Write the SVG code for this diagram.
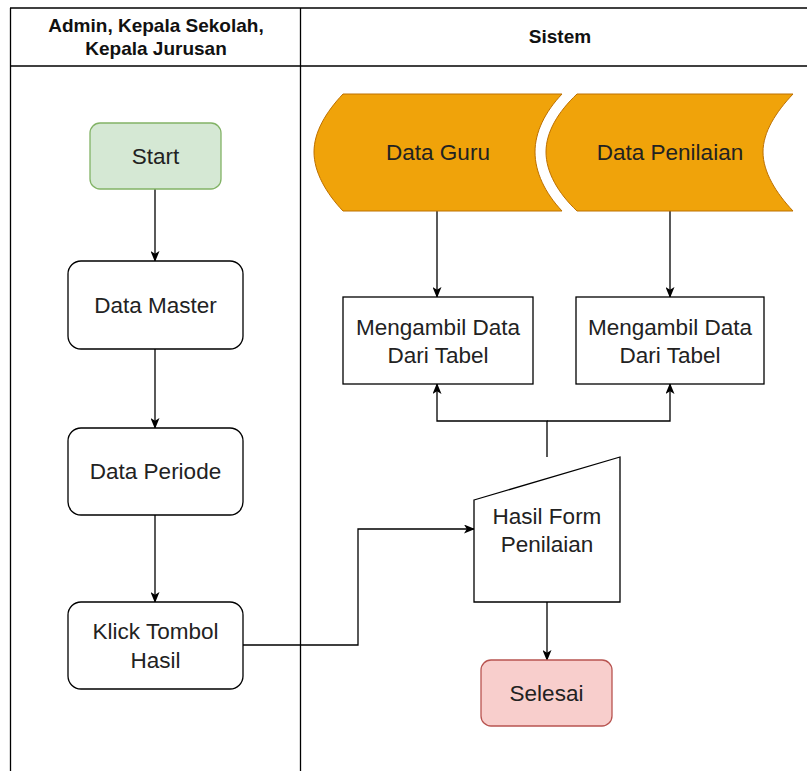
<svg xmlns="http://www.w3.org/2000/svg" width="807" height="771" viewBox="0 0 807 771">
  <style>
    .lane { fill: none; stroke: #000; stroke-width: 1.3; }
    .hdr { font-family: "Liberation Sans", Arial, sans-serif; font-weight: bold; font-size: 19px; fill: #111; text-anchor: middle; }
    .lbl { font-family: "Liberation Sans", Arial, sans-serif; font-size: 22.5px; fill: #222; text-anchor: middle; }
    .box { fill: #fff; stroke: #000; stroke-width: 1.3; }
    .start { fill: #d5e8d4; stroke: #82b366; stroke-width: 1.3; }
    .end { fill: #f8cecc; stroke: #b85450; stroke-width: 1.3; }
    .store { fill: #f0a30a; stroke: #bd7000; stroke-width: 1; }
    .edge { fill: none; stroke: #000; stroke-width: 1.3; }
  </style>
  <defs>
    <marker id="arrow" viewBox="0 0 11 9" refX="10" refY="4.5" markerWidth="11" markerHeight="9" markerUnits="userSpaceOnUse" orient="auto">
      <path d="M0,0 L11,4.5 L0,9 L2.8,4.5 Z" fill="#000"/>
    </marker>
  </defs>

  <rect width="807" height="771" fill="#fff"/>

  <!-- swimlane frame -->
  <g id="lanes">
    <line class="lane" x1="10" y1="8" x2="807" y2="8"/>
    <line class="lane" x1="10" y1="66" x2="807" y2="66"/>
    <line class="lane" x1="10.5" y1="8" x2="10.5" y2="771"/>
    <line class="lane" x1="300.5" y1="8" x2="300.5" y2="771"/>
    <text class="hdr" x="156" y="32">Admin, Kepala Sekolah,</text>
    <text class="hdr" x="156" y="55">Kepala Jurusan</text>
    <text class="hdr" x="560" y="43">Sistem</text>
  </g>

  <!-- connectors -->
  <g id="connectors">
    <line class="edge" x1="155" y1="189" x2="155" y2="261" marker-end="url(#arrow)"/>
    <line class="edge" x1="155" y1="349" x2="155" y2="428" marker-end="url(#arrow)"/>
    <line class="edge" x1="155" y1="515" x2="155" y2="602" marker-end="url(#arrow)"/>
    <line class="edge" x1="437" y1="211" x2="437" y2="297" marker-end="url(#arrow)"/>
    <line class="edge" x1="670" y1="211" x2="670" y2="297" marker-end="url(#arrow)"/>
    <polyline class="edge" points="243,645 358,645 358,529 474,529" marker-end="url(#arrow)"/>
    <polyline class="edge" points="547,457 547,421 437,421 437,384" marker-end="url(#arrow)"/>
    <polyline class="edge" points="547,421 670,421 670,384" marker-end="url(#arrow)"/>
    <line class="edge" x1="547" y1="602" x2="547" y2="660" marker-end="url(#arrow)"/>
  </g>

  <g id="start">
    <rect class="start" x="90" y="123" width="131" height="66" rx="10"/>
    <text class="lbl" x="155.5" y="164">Start</text>
  </g>

  <g id="data-master">
    <rect class="box" x="68" y="261" width="175" height="88" rx="13"/>
    <text class="lbl" x="155.5" y="313">Data Master</text>
  </g>

  <g id="data-periode">
    <rect class="box" x="68" y="428" width="175" height="87" rx="13"/>
    <text class="lbl" x="155.5" y="479">Data Periode</text>
  </g>

  <g id="klick-tombol">
    <rect class="box" x="68" y="602" width="175" height="87" rx="13"/>
    <text class="lbl" x="155.5" y="639">Klick Tombol</text>
    <text class="lbl" x="155.5" y="668">Hasil</text>
  </g>

  <g id="data-guru">
    <path class="store" d="M343,94 L562,94 C545,112 535,132 535,152 C535,172 545,193 562,211 L343,211 C326,193 314,172 314,152 C314,132 326,112 343,94 Z"/>
    <text class="lbl" x="438" y="160">Data Guru</text>
  </g>

  <g id="data-penilaian">
    <path class="store" d="M577,94 L793,94 C776,112 763,132 763,152 C763,172 776,193 793,211 L577,211 C558,193 546,172 546,152 C546,132 558,112 577,94 Z"/>
    <text class="lbl" x="670" y="160">Data Penilaian</text>
  </g>

  <g id="ambil-guru">
    <rect class="box" x="343" y="297" width="190" height="87"/>
    <text class="lbl" x="438" y="335">Mengambil Data</text>
    <text class="lbl" x="438" y="363">Dari Tabel</text>
  </g>

  <g id="ambil-penilaian">
    <rect class="box" x="576" y="297" width="188" height="87"/>
    <text class="lbl" x="670" y="335">Mengambil Data</text>
    <text class="lbl" x="670" y="363">Dari Tabel</text>
  </g>

  <g id="hasil-form">
    <path class="box" d="M474,500 L620,457 L620,602 L474,602 Z"/>
    <text class="lbl" x="547" y="524">Hasil Form</text>
    <text class="lbl" x="547" y="552">Penilaian</text>
  </g>

  <g id="selesai">
    <rect class="end" x="481" y="660" width="131" height="66" rx="10"/>
    <text class="lbl" x="546.5" y="701">Selesai</text>
  </g>
</svg>
